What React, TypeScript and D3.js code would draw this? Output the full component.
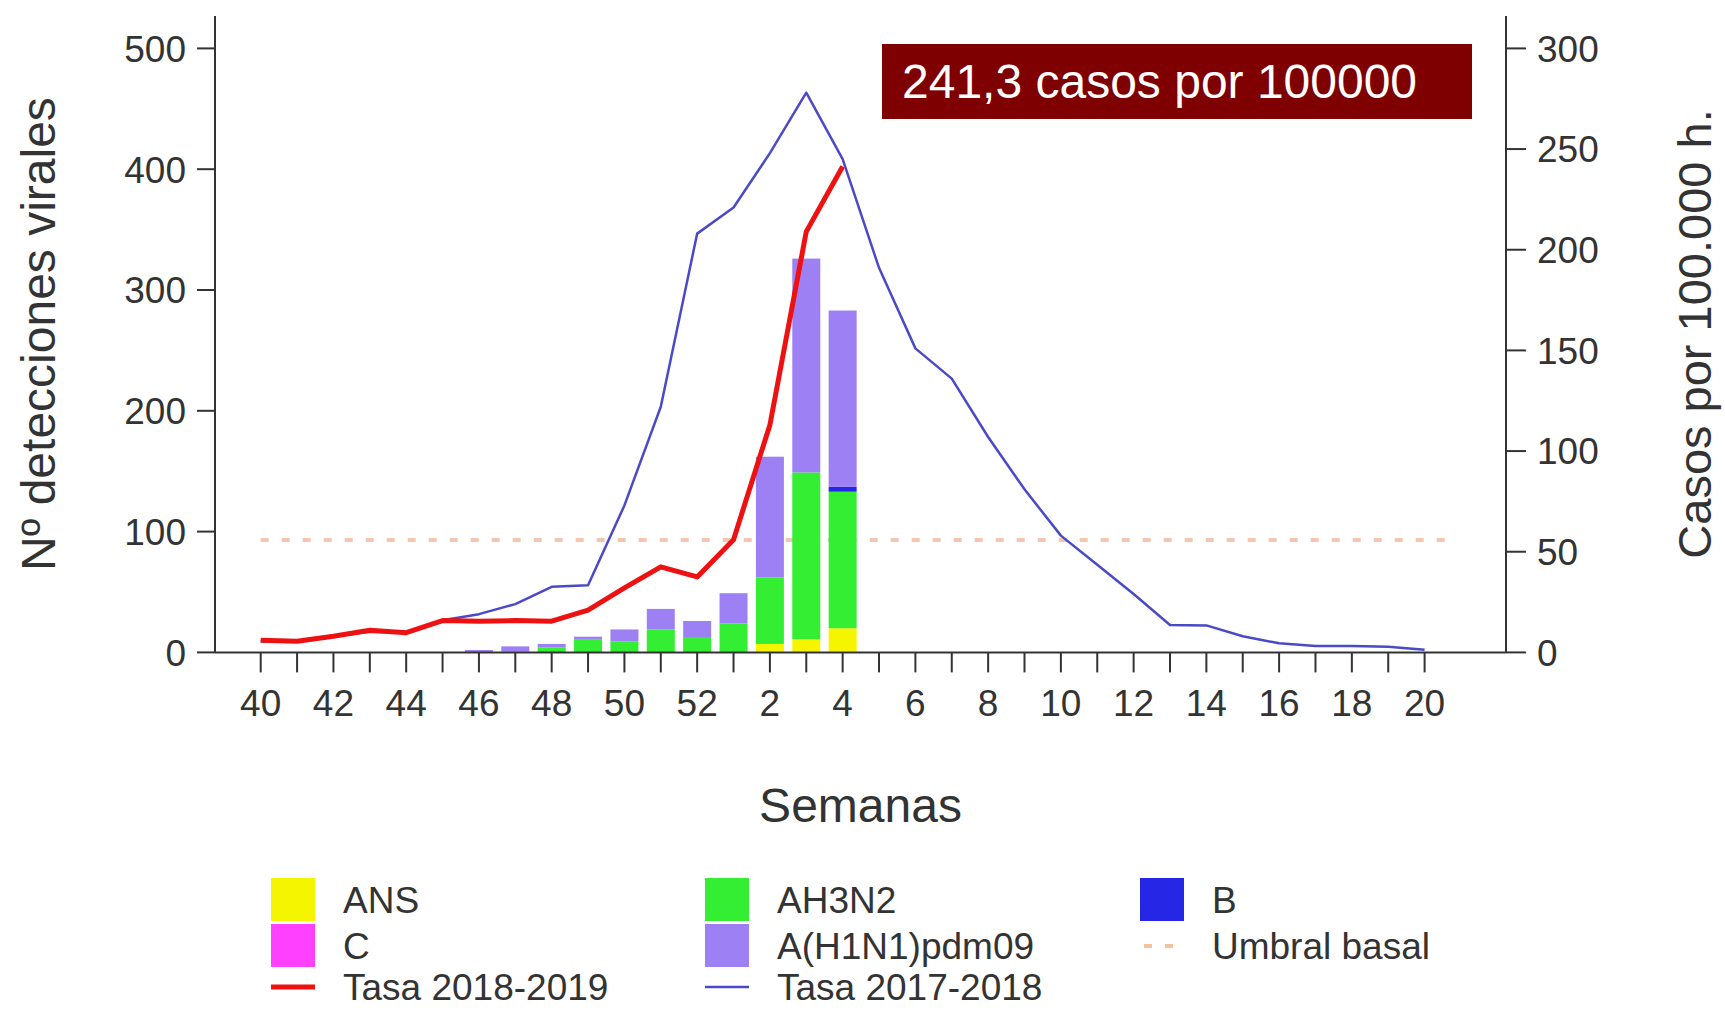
import React from "react";
import * as d3 from "d3";

const weeks = [40, 41, 42, 43, 44, 45, 46, 47, 48, 49, 50, 51, 52, 1, 2, 3, 4, 5, 6, 7, 8, 9, 10, 11, 12, 13, 14, 15, 16, 17, 18, 19, 20];
const xTickLabels = [40, 42, 44, 46, 48, 50, 52, 2, 4, 6, 8, 10, 12, 14, 16, 18, 20];
const leftTicks = [0, 100, 200, 300, 400, 500];
const rightTicks = [0, 50, 100, 150, 200, 250, 300];

// stacked bar series (Nº detecciones virales), weeks 40..4
const ans = [0, 0, 0, 0, 0, 0, 0, 0, 0, 0, 0, 0, 0, 0, 7, 11, 20];
const ah3n2 = [0, 0, 0, 0, 0, 0, 0, 1, 4, 11, 9, 19, 12, 24, 55, 138, 113];
const bVir = [0, 0, 0, 0, 0, 0, 0, 0, 0, 0, 0, 0, 0, 0, 0, 0, 4];
const cVir = [0, 0, 0, 0, 0, 0, 0, 0, 0, 0, 0, 0, 0, 0, 0, 0, 0];
const h1n1 = [0, 0, 0, 0, 0, 0, 2, 4, 3, 2, 10, 17, 14, 25, 100, 177, 146];

// rates (Casos por 100.000 h.)
const tasa1819 = [6, 5.5, 8, 11, 9.8, 15.8, 15.5, 15.8, 15.5, 21, 32, 42.5, 37.5, 56, 113, 209, 241.3];
const tasa1718 = [5.5, 5.5, 8, 10.3, 9.8, 16, 19, 24, 32.6, 33.3, 73, 122, 208, 221, 248, 278, 245, 191, 151, 136, 107, 81, 58, 43.5, 29, 13.6, 13.4, 8, 4.5, 3.2, 3.2, 2.8, 1.3];
const umbral = 55.8;

const seriesNames = ["ANS", "AH3N2", "B", "C", "A(H1N1)pdm09"];
const seriesColors = ["#f5f500", "#33ee33", "#2626e6", "#ff40ff", "#9e80f5"];

const FONT = "'Liberation Sans', Arial, sans-serif";

export default function App() {
  const W = 1725, H = 1010;
  const left = 215, right = 1506, top = 16, bottom = 652.4;
  const x = d3.scaleLinear().domain([0, weeks.length - 1]).range([260.7, 1424.6]);
  const yL = d3.scaleLinear().domain([0, 500]).range([bottom, 48.4]);
  const yR = d3.scaleLinear().domain([0, 300]).range([bottom, 48.4]);
  const barW = 28;

  const rows = ans.map((_, i) => ({ i, ANS: ans[i], AH3N2: ah3n2[i], B: bVir[i], C: cVir[i], "A(H1N1)pdm09": h1n1[i] }));
  const stack = d3.stack<any>().keys(seriesNames)(rows);

  const line = d3.line<number>().x((_, i) => x(i)).y((d) => yR(d));

  const legendItems = [
    { name: "ANS", type: "box", color: seriesColors[0], col: 0, row: 0 },
    { name: "AH3N2", type: "box", color: seriesColors[1], col: 1, row: 0 },
    { name: "B", type: "box", color: seriesColors[2], col: 2, row: 0 },
    { name: "C", type: "box", color: seriesColors[3], col: 0, row: 1 },
    { name: "A(H1N1)pdm09", type: "box", color: seriesColors[4], col: 1, row: 1 },
    { name: "Umbral basal", type: "dash", color: "#f5c29a", col: 2, row: 1 },
    { name: "Tasa 2018-2019", type: "thick", color: "#ee1111", col: 0, row: 2 },
    { name: "Tasa 2017-2018", type: "thin", color: "#4a4ac8", col: 1, row: 2 },
  ];
  const colX = [271, 705, 1140];
  const rowY = [900, 946, 987];

  return (
    <svg width={W} height={H} style={{ position: "absolute", left: 0, top: 0, display: "block", background: "#fff" }} fontFamily={FONT}>
      <rect x={0} y={0} width={W} height={H} fill="#fff" />
      {/* threshold */}
      <line x1={x(0)} x2={x(32.7)} y1={yR(umbral)} y2={yR(umbral)} stroke="#f3c6b2" strokeWidth={4} strokeDasharray="8 13" />
      {/* bars */}
      {stack.map((s, si) => (
        <g key={si} fill={seriesColors[si]}>
          {s.map((d, i) => (d[1] - d[0] > 0 ? (
            <rect key={i} x={x(i) - barW / 2} y={yL(d[1])} width={barW} height={yL(d[0]) - yL(d[1])} />
          ) : null))}
        </g>
      ))}
      {/* lines */}
      <path d={line(tasa1718) || ""} fill="none" stroke="#4a4ac8" strokeWidth={2.5} strokeLinejoin="round" />
      <path d={line(tasa1819) || ""} fill="none" stroke="#ee1111" strokeWidth={5} strokeLinejoin="round" />

      {/* axes */}
      <g stroke="#333" strokeWidth={2}>
        <line x1={left} x2={left} y1={top} y2={bottom} />
        <line x1={right} x2={right} y1={top} y2={bottom} />
        <line x1={left} x2={right} y1={bottom} y2={bottom} />
        {leftTicks.map((t) => <line key={"l" + t} x1={left - 18} x2={left} y1={yL(t)} y2={yL(t)} />)}
        {rightTicks.map((t) => <line key={"r" + t} x1={right} x2={right + 20} y1={yR(t)} y2={yR(t)} />)}
        {weeks.map((w, i) => <line key={"x" + i} x1={x(i)} x2={x(i)} y1={bottom} y2={bottom + 20} />)}
      </g>
      <g fill="#333" fontSize={37}>
        {leftTicks.map((t) => (
          <text key={"lt" + t} x={186} y={yL(t)} dy="0.36em" textAnchor="end">{t}</text>
        ))}
        {rightTicks.map((t) => (
          <text key={"rt" + t} x={1537} y={yR(t)} dy="0.36em" textAnchor="start">{t}</text>
        ))}
        {xTickLabels.map((lab) => {
          const idx = weeks.indexOf(lab, lab >= 40 ? 0 : 13);
          return <text key={"xt" + lab} x={x(idx)} y={716} textAnchor="middle">{lab}</text>;
        })}
      </g>
      <text x={0} y={0} transform={`translate(38,334) rotate(-90)`} textAnchor="middle" dy="0.36em" fontSize={48} fill="#333">Nº detecciones virales</text>
      <text x={0} y={0} transform={`translate(1694,334) rotate(-90)`} textAnchor="middle" dy="0.36em" fontSize={47} fill="#333">Casos por 100.000 h.</text>
      <text x={860.5} y={805} dy="0.36em" textAnchor="middle" fontSize={48} fill="#333">Semanas</text>

      {/* annotation */}
      <rect x={882} y={44} width={590} height={75} fill="#7f0000" />
      <text x={902} y={98} fontSize={48} fill="#fff">241,3 casos por 100000</text>

      {/* legend */}
      {legendItems.map((it) => {
        const cx = colX[it.col];
        const cy = rowY[it.row];
        return (
          <g key={it.name}>
            {it.type === "box" && <rect x={cx} y={cy - 22} width={44} height={43} fill={it.color} />}
            {it.type === "thick" && <line x1={cx} x2={cx + 44} y1={cy} y2={cy} stroke={it.color} strokeWidth={5} />}
            {it.type === "thin" && <line x1={cx} x2={cx + 44} y1={cy} y2={cy} stroke={it.color} strokeWidth={2.5} />}
            {it.type === "dash" && <line x1={cx + 4} x2={cx + 40} y1={cy} y2={cy} stroke={it.color} strokeWidth={4} strokeDasharray="8 13" />}
            <text x={cx + 72} y={cy} dy="0.36em" fontSize={37} fill="#333">{it.name}</text>
          </g>
        );
      })}
    </svg>
  );
}
